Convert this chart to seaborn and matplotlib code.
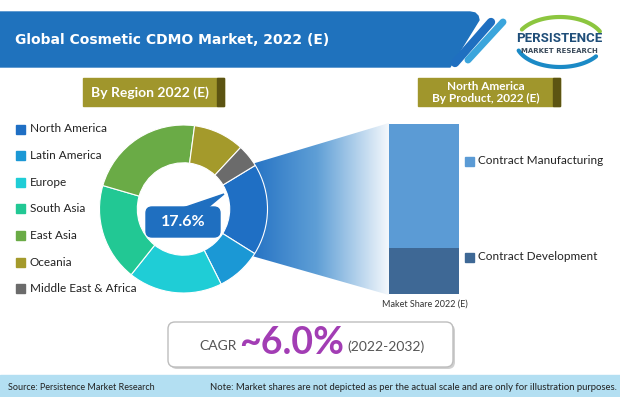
import matplotlib.pyplot as plt
import matplotlib.patches as mpatches
from matplotlib.colors import LinearSegmentedColormap
import numpy as np
import seaborn as sns

# region split of the market, 2022 (E), in %
regions = ["North America", "Latin America", "Europe", "South Asia",
           "East Asia", "Oceania", "Middle East & Africa"]
region_share = [17.6, 8.7, 18.1, 18.8, 22.6, 9.8, 4.4]
region_colors = ["#1f6fc4", "#1b98d5", "#1fcdd6", "#22c894",
                 "#6aab46", "#a49a2b", "#6b6b6b"]

# north america split by product, in %
products = ["Contract Manufacturing", "Contract Development"]
product_share = [73.0, 27.0]
product_colors = ["#5b9bd5", "#3e6895"]

title = "Global Cosmetic CDMO Market, 2022 (E)"
cagr_value = "~6.0%"
cagr_period = "(2022-2032)"

W, H = 620, 397
OLIVE, OLIVE_DARK = "#a0962c", "#5c5412"

sns.set_theme(style="white")
plt.rcParams["font.family"] = ["Lato", "DejaVu Sans"]

fig = plt.figure(figsize=(W / 100, H / 100), dpi=100)


def px_axes(x0, y0, w, h, z):
    ax = fig.add_axes([x0 / W, 1 - (y0 + h) / H, w / W, h / H], zorder=z)
    ax.set_facecolor("none")
    return ax


bg = px_axes(0, 0, W, H, 0)

# gradient wedge linking north america to the product bar
grad = np.linspace(0, 1, 256).reshape(1, -1)
cmap = LinearSegmentedColormap.from_list("zoom", ["#1f6ec2", "#5f9fd6", "#f4f8fc"])
im = bg.imshow(grad, cmap=cmap, extent=(245, 389, 300, 118), aspect="auto", zorder=1)
clip = mpatches.Polygon([(245, 166), (389, 123), (389, 295), (245, 254)],
                        closed=True, facecolor="none", edgecolor="none")
bg.add_patch(clip)
im.set_clip_path(clip)

# title banner
banner = [(0, 12), (470, 12), (475, 13), (478, 16), (479, 20), (450, 67), (0, 67)]
bg.add_patch(mpatches.Polygon(banner, closed=True, color="#1f72bd", zorder=2))
bg.text(15, 40, title, color="white", fontsize=10, fontweight="bold",
        va="center", family=["DejaVu Sans"], zorder=3)
bg.plot([455, 491], [63, 22], color="#1f6fc0", lw=6, solid_capstyle="round", zorder=2)
bg.plot([468, 503], [60, 22], color="#3ba5dc", lw=5, solid_capstyle="round", zorder=2)

# logo
t = np.radians(np.linspace(25, 150, 60))
bg.plot(560 + 44 * np.cos(t), 42 - 25 * np.sin(t), color="#8cc63f", lw=3, zorder=2)
t = np.radians(np.linspace(200, 325, 60))
bg.plot(560 + 44 * np.cos(t), 42 - 25 * np.sin(t), color="#1b8ac6", lw=3, zorder=2)
bg.text(559, 38, "PERSISTENCE", color="#1f4e79", fontsize=9.5, fontweight="bold",
        ha="center", va="center", family=["Roboto", "DejaVu Sans"], zorder=3)
bg.text(559, 51, "MARKET RESEARCH", color="#3a4a5a", fontsize=5.0, fontweight="bold",
        ha="center", va="center", family=["DejaVu Sans"], zorder=3)

# section headers
for x0, w, label, fs in [(83, 141, "By Region 2022 (E)", 10),
                         (418, 142, "North America\nBy Product, 2022 (E)", 8.5)]:
    bg.add_patch(mpatches.Rectangle((x0, 78), w, 28, color=OLIVE, zorder=2))
    bg.add_patch(mpatches.Rectangle((x0 + w - 7, 78), 7, 28, color=OLIVE_DARK, zorder=2))
    bg.text(x0 + (w - 7) / 2, 92.5, label, color="white", fontsize=fs,
            fontweight="bold", ha="center", va="center", linespacing=1.05, zorder=3)

# region legend
for i, (name, col) in enumerate(zip(regions, region_colors)):
    y = 129 + i * 26.6
    bg.add_patch(mpatches.Rectangle((16, y - 4.5), 9, 9, color=col, zorder=2))
    bg.text(30, y, name, fontsize=8.5, va="center", color="#222222", zorder=3)

# product legend
for y, name, col in zip([161, 257], products, product_colors):
    bg.add_patch(mpatches.Rectangle((465, y - 4.5), 9, 9, color=col, zorder=2))
    bg.text(478, y, name, fontsize=8.5, va="center", color="#222222", zorder=3)
bg.text(425, 304, "Maket Share 2022 (E)", fontsize=6.5, ha="center", va="center",
        color="#333333", zorder=3)

# cagr box
bg.add_patch(mpatches.FancyBboxPatch((170, 324), 285, 45,
                                     boxstyle="round,pad=0,rounding_size=7",
                                     facecolor="#d0d0d0", edgecolor="none", zorder=2))
bg.add_patch(mpatches.FancyBboxPatch((168, 322), 285, 45,
                                     boxstyle="round,pad=0,rounding_size=7",
                                     facecolor="white", edgecolor="#bdbdbd", lw=1, zorder=2))
bg.text(218, 346, "CAGR", fontsize=10, color="#555555", ha="center", va="center", zorder=3)
bg.text(292, 343, cagr_value, fontsize=27, fontweight="bold", color="#a23db4",
        ha="center", va="center", zorder=3)
bg.text(347, 347, cagr_period, fontsize=10, color="#555555", ha="left",
        va="center", zorder=3)

# footer
bg.add_patch(mpatches.Rectangle((0, 375), W, 22, color="#b3dff2", zorder=2))
bg.text(8, 387, "Source: Persistence Market Research", fontsize=6.5, va="center",
        color="#222222", zorder=3)
bg.text(617, 387, "Note: Market shares are not depicted as per the actual scale and "
        "are only for illustration purposes.", fontsize=6.8, va="center", ha="right",
        color="#222222", zorder=3)

bg.set_xlim(0, W)
bg.set_ylim(H, 0)
bg.axis("off")

# donut
r = 84
dx = px_axes(183.5 - r, 209 - r, 2 * r, 2 * r, 1)
dx.pie(region_share, colors=region_colors, startangle=31.3, counterclock=False,
       wedgeprops=dict(width=0.45, edgecolor="white", linewidth=0.8))
dx.set_xlim(-1, 1)
dx.set_ylim(-1, 1)
dx.axis("off")

# stacked product bar
bx = px_axes(389, 124, 70, 170, 1)
sns.barplot(x=["NA"], y=[sum(product_share)], color=product_colors[0],
            saturation=1, width=1, linewidth=0, ax=bx)
sns.barplot(x=["NA"], y=[product_share[1]], color=product_colors[1],
            saturation=1, width=1, linewidth=0, ax=bx)
bx.set_xlim(-0.5, 0.5)
bx.set_ylim(0, 100)
bx.axis("off")

# callout for north america
fg = px_axes(0, 0, W, H, 3)
fg.add_patch(mpatches.Polygon([(180, 209), (224, 194), (206, 209)], closed=True,
                              color="#1f6fc0"))
fg.add_patch(mpatches.FancyBboxPatch((146, 207), 74, 30,
                                     boxstyle="round,pad=0,rounding_size=6",
                                     color="#1f6fc0"))
fg.text(183, 222.5, f"{region_share[0]}%", color="white", fontsize=11.5,
        fontweight="bold", ha="center", va="center")
fg.set_xlim(0, W)
fg.set_ylim(H, 0)
fg.axis("off")

fig.savefig("out.png", dpi=100)
